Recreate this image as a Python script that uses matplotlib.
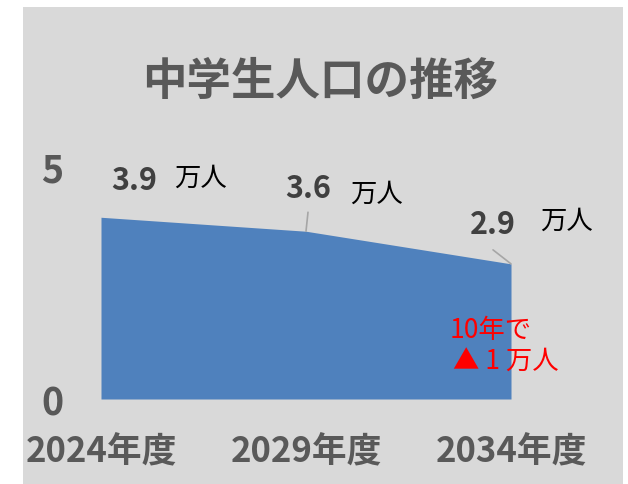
import numpy as np
import matplotlib
matplotlib.use("Agg")
import matplotlib.pyplot as plt
from matplotlib.patches import Rectangle

plt.rcParams['font.family'] = ['Noto Sans CJK JP', 'DejaVu Sans']

# データ
years = ['2024年度', '2029年度', '2034年度']
pop = [3.9, 3.6, 2.9]          # 万人
y_ticks = [0, 5]
title = '中学生人口の推移'
note1 = '10年で'
note2 = '▲ 1 万人'

W, H = 628, 485
fig = plt.figure(figsize=(W / 100, H / 100), dpi=100)
fig.patch.set_facecolor('white')

# 灰色の背景
fig.patches.append(Rectangle((23 / W, 0), 600 / W, 477 / H, transform=fig.transFigure,
                             facecolor='#D9D9D9', edgecolor='none', zorder=-10))

fig.text(320 / W, 1 - 82 / H, title, ha='center', va='center', fontsize=32,
         fontweight='bold', color='#595959')

# 折れ線の位置 (px): x 101..511, y=0 -> 400, y=5 -> 167
ax = fig.add_axes([101 / W, 1 - 400 / H, 410 / W, 233 / H])
ax.set_zorder(5)
ax.set_facecolor('none')
x = np.arange(len(years))
ax.fill_between(x, pop, 0, color='#4F81BD', linewidth=0)
ax.set_xlim(0, len(years) - 1)
ax.set_ylim(0, 5)
for s in ax.spines.values():
    s.set_visible(False)

ax.set_yticks(y_ticks)
ax.set_yticklabels([str(t) for t in y_ticks], fontsize=27, fontweight='bold', color='#595959')
ax.tick_params(axis='y', length=0, pad=27)
ax.set_xticks(x)
ax.set_xticklabels(years, fontsize=25, fontweight='bold', color='#595959')
ax.tick_params(axis='x', length=0, pad=25)

# データラベル (px オフセット -> pt)
k = 0.72
num_off = [(33, 37), (2, 43), (-18, 40)]
unit_off = [(99, 40), (70, 38), (55, 44)]
lead_off = [None, (2, 19), (-18, 14)]
for i, v in enumerate(pop):
    ax.annotate(f'{v:.1f}', (x[i], v), xytext=(num_off[i][0] * k, num_off[i][1] * k),
                textcoords='offset points', ha='center', va='center', fontsize=22,
                fontweight='bold', color='#404040')
    ax.annotate('万人', (x[i], v), xytext=(unit_off[i][0] * k, unit_off[i][1] * k),
                textcoords='offset points', ha='center', va='center', fontsize=19,
                color='black')
    if lead_off[i] is not None:
        ax.annotate('', (x[i], v), xytext=(lead_off[i][0] * k, lead_off[i][1] * k),
                    textcoords='offset points',
                    arrowprops=dict(arrowstyle='-', color='#A6A6A6', lw=1.2,
                                    shrinkA=0, shrinkB=0))

ax.text(1.70, 1.50, note1, ha='left', va='center', fontsize=19, color='red')
ax.text(1.715, 0.815, note2, ha='left', va='center', fontsize=19, color='red')

fig.savefig('out.png', dpi=100)
